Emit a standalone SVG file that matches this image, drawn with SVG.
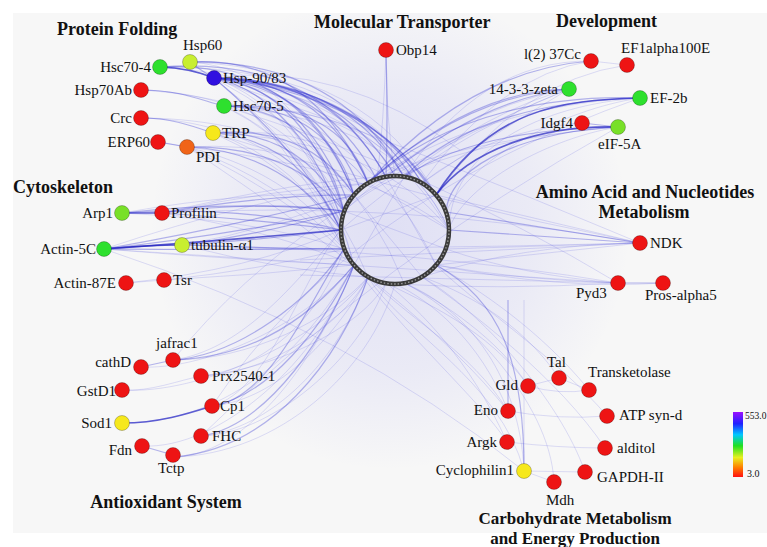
<svg xmlns="http://www.w3.org/2000/svg" width="767" height="547" viewBox="0 0 767 547">
<defs>
<radialGradient id="haze" cx="390" cy="230" r="240" gradientUnits="userSpaceOnUse">
<stop offset="0" stop-color="#5a5ae6" stop-opacity="0.15"/>
<stop offset="0.6" stop-color="#5a5ae6" stop-opacity="0.08"/>
<stop offset="1" stop-color="#5a5ae6" stop-opacity="0"/>
</radialGradient>
<linearGradient id="legend" x1="0" y1="0" x2="0" y2="1">
<stop offset="0" stop-color="#9a10ff"/>
<stop offset="0.18" stop-color="#2020ff"/>
<stop offset="0.35" stop-color="#00c8ff"/>
<stop offset="0.52" stop-color="#20e020"/>
<stop offset="0.7" stop-color="#e8f020"/>
<stop offset="0.85" stop-color="#ff8000"/>
<stop offset="1" stop-color="#ff1010"/>
</linearGradient>
</defs>
<style>
.e{fill:none;stroke:#4040d8;stroke-opacity:0.16;stroke-width:1}
.m{fill:none;stroke:#3030d0;stroke-opacity:0.35;stroke-width:1.2}
.s{fill:none;stroke:#2020c0;stroke-opacity:0.7;stroke-width:1.6}
.n{stroke:#000;stroke-opacity:0.3;stroke-width:0.8}
.r{fill:#ee1414}
.g{fill:#2ee02e}
.yg{fill:#c8ee30}
.lg{fill:#78e028}
.y{fill:#f6e81c}
.o{fill:#f06418}
.b{fill:#3010e0}
text{font-family:"Liberation Serif","Times New Roman",serif;fill:#111}
.l{font-size:15px}
.t{font-size:18px;font-weight:bold}
.t2{font-size:17px;font-weight:bold}
.end{text-anchor:end}
.mid{text-anchor:middle}
</style>
<rect x="0" y="0" width="767" height="547" fill="#ffffff"/>
<rect x="13" y="13" width="754" height="520" fill="#f7f7f7"/>
<rect x="13" y="13" width="754" height="520" fill="url(#haze)"/>
<g id="connectors">
<!-- top-left cluster -->
<path class="s" d="M160,67 Q190,68 214,78"/>
<path class="m" d="M190,62 Q200,70 214,78"/>
<path class="m" d="M141,90 C180,90 200,100 224,106"/>
<path class="m" d="M141,118 C170,118 190,125 213,133"/>
<path class="m" d="M158,142 L187,147"/>
<path class="m" d="M214,78 Q300,85 344,211"/>
<path class="m" d="M214,78 Q310,80 354,195"/>
<path class="m" d="M214,78 Q320,78 368,183"/>
<path class="m" d="M214,78 Q330,75 386,177"/>
<path class="m" d="M214,78 Q345,78 404,177"/>
<path class="m" d="M214,78 Q360,85 422,183"/>
<path class="m" d="M214,78 Q375,95 436,195"/>
<path class="m" d="M214,78 Q315,88 360,188"/>
<path class="m" d="M214,78 Q325,82 377,180"/>
<path class="m" d="M214,78 Q338,80 395,176"/>
<path class="m" d="M214,78 Q352,82 413,179"/>
<path class="m" d="M214,78 Q368,90 430,189"/>
<path class="m" d="M214,78 Q295,95 342,220"/>
<path class="m" d="M214,78 Q305,90 348,203"/>
<path class="e" d="M214,78 Q390,105 446,212"/>
<path class="e" d="M214,78 Q400,120 449,230"/>
<path class="e" d="M214,78 Q380,140 436,265"/>
<path class="e" d="M214,78 Q350,150 404,283"/>
<path class="e" d="M214,78 Q320,160 368,277"/>
<path class="m" d="M214,78 Q300,150 341,230"/>
<path class="e" d="M214,78 Q290,140 344,249"/>
<path class="e" d="M214,78 Q340,60 460,150"/>
<path class="e" d="M214,78 Q305,95 354,265"/>
<path class="m" d="M160,67 Q300,60 354,195"/>
<path class="m" d="M160,67 Q320,55 386,177"/>
<path class="e" d="M160,67 Q350,65 422,183"/>
<path class="e" d="M160,67 Q290,75 341,230"/>
<path class="e" d="M160,67 Q360,80 449,230"/>
<path class="m" d="M190,62 Q310,55 368,183"/>
<path class="m" d="M190,62 Q340,60 404,177"/>
<path class="e" d="M190,62 Q300,70 344,211"/>
<path class="e" d="M190,62 Q370,70 436,195"/>
<path class="e" d="M141,90 C200,92 300,110 344,211"/>
<path class="e" d="M141,90 C220,95 320,120 368,183"/>
<path class="m" d="M224,106 Q320,110 344,211"/>
<path class="m" d="M224,106 Q330,105 354,195"/>
<path class="m" d="M224,106 Q340,100 368,183"/>
<path class="e" d="M224,106 Q360,105 395,176"/>
<path class="e" d="M224,106 Q380,110 422,183"/>
<path class="e" d="M224,106 Q300,140 341,230"/>
<path class="e" d="M224,106 Q330,160 354,265"/>
<path class="e" d="M224,106 Q400,120 449,230"/>
<path class="e" d="M141,118 C220,120 300,150 341,230"/>
<path class="e" d="M141,118 C220,118 320,140 354,195"/>
<path class="m" d="M213,133 Q300,140 341,230"/>
<path class="m" d="M213,133 Q300,130 344,211"/>
<path class="m" d="M213,133 Q310,125 354,195"/>
<path class="e" d="M213,133 Q330,125 368,183"/>
<path class="e" d="M213,133 Q300,160 344,249"/>
<path class="e" d="M213,133 Q320,180 354,265"/>
<path class="e" d="M213,133 Q380,140 449,230"/>
<path class="m" d="M187,147 Q280,150 341,230"/>
<path class="m" d="M187,147 Q290,145 344,211"/>
<path class="e" d="M187,147 Q300,140 354,195"/>
<path class="e" d="M187,147 Q280,180 344,249"/>
<path class="e" d="M187,147 Q300,200 368,277"/>
<path class="e" d="M187,147 Q380,170 449,230"/>
<path class="e" d="M158,142 C220,150 300,180 344,249"/>
<!-- molecular transporter -->
<path class="m" d="M386,50 Q388,120 386,177"/>
<path class="e" d="M386,50 Q386,120 395,176"/>
<path class="e" d="M386,50 Q384,120 377,180"/>
<!-- development -->
<path class="e" d="M591,61 L627,65"/>
<path class="m" d="M582,123 L618,127"/>
<path class="e" d="M591,61 Q480,60 404,177"/>
<path class="m" d="M591,61 Q470,70 368,183"/>
<path class="e" d="M591,61 Q500,75 422,183"/>
<path class="e" d="M627,65 Q520,80 436,195"/>
<path class="m" d="M569,89 Q470,90 368,183"/>
<path class="m" d="M569,89 Q460,95 354,195"/>
<path class="m" d="M569,89 Q480,100 386,177"/>
<path class="e" d="M569,89 Q450,110 344,211"/>
<path class="e" d="M569,89 Q490,110 404,177"/>
<path class="e" d="M569,89 Q440,140 341,230"/>
<path class="e" d="M569,89 Q500,130 422,183"/>
<path class="s" d="M640,98 C560,100 490,110 436,195"/>
<path class="m" d="M640,98 C550,100 460,120 404,177"/>
<path class="m" d="M640,98 C560,95 450,110 368,183"/>
<path class="e" d="M640,98 C540,105 450,150 449,230"/>
<path class="e" d="M640,98 C560,100 430,130 354,195"/>
<path class="e" d="M640,98 C560,110 470,160 446,212"/>
<path class="e" d="M582,123 Q490,130 422,183"/>
<path class="s" d="M618,127 C540,125 470,150 436,195"/>
<path class="m" d="M618,127 C540,128 460,140 404,177"/>
<path class="m" d="M618,127 C540,130 450,160 446,212"/>
<path class="e" d="M618,127 C530,135 430,150 368,183"/>
<path class="e" d="M618,127 C540,140 460,190 449,230"/>
<path class="e" d="M618,127 C520,135 400,160 344,211"/>
<!-- cytoskeleton -->
<path class="s" d="M122,213 L162,213"/>
<path class="s" d="M104,249 Q150,245 182,245"/>
<path class="e" d="M126,283 L164,280"/>
<path class="m" d="M122,213 Q240,205 341,230"/>
<path class="m" d="M122,213 Q240,200 344,211"/>
<path class="e" d="M122,213 Q250,190 354,195"/>
<path class="e" d="M122,213 Q260,220 344,249"/>
<path class="m" d="M162,213 Q260,200 344,211"/>
<path class="m" d="M162,213 Q260,195 354,195"/>
<path class="e" d="M162,213 Q270,190 368,183"/>
<path class="m" d="M162,213 Q260,220 341,230"/>
<path class="e" d="M162,213 Q270,230 354,265"/>
<path class="e" d="M162,213 Q300,180 395,176"/>
<path class="s" d="M104,249 Q230,240 341,230"/>
<path class="m" d="M104,249 Q230,235 344,211"/>
<path class="m" d="M104,249 Q240,225 354,195"/>
<path class="m" d="M104,249 Q230,250 344,249"/>
<path class="e" d="M104,249 Q240,260 354,265"/>
<path class="e" d="M104,249 Q250,200 368,183"/>
<path class="e" d="M104,249 Q350,265 618,283"/>
<path class="e" d="M104,249 Q380,250 640,243"/>
<path class="m" d="M182,245 Q260,240 341,230"/>
<path class="m" d="M182,245 Q260,235 344,211"/>
<path class="m" d="M182,245 Q260,248 344,249"/>
<path class="e" d="M182,245 Q270,230 354,195"/>
<path class="e" d="M182,245 Q280,270 368,277"/>
<path class="e" d="M164,280 Q260,270 344,249"/>
<path class="e" d="M164,280 Q260,275 354,265"/>
<path class="e" d="M126,283 Q250,270 341,230"/>
<!-- amino acid -->
<path class="m" d="M640,243 L449,230"/>
<path class="e" d="M640,243 L446,249"/>
<path class="e" d="M640,243 L436,195"/>
<path class="e" d="M640,243 L436,265"/>
<path class="m" d="M640,243 L446,212"/>
<path class="e" d="M640,243 Q520,245 422,277"/>
<path class="e" d="M640,243 L300,260"/>
<path class="m" d="M618,283 L663,283"/>
<path class="e" d="M618,283 Q520,280 436,265"/>
<path class="e" d="M618,283 Q500,290 395,284"/>
<path class="e" d="M618,283 Q520,275 446,249"/>
<path class="e" d="M618,283 L300,275"/>
<path class="e" d="M663,283 Q560,290 436,265"/>
<!-- antioxidant -->
<path class="m" d="M141,367 L173,360"/>
<path class="e" d="M122,390 C150,392 180,380 201,376"/>
<path class="s" d="M122,423 C160,423 190,413 212,406"/>
<path class="m" d="M142,446 L173,455"/>
<path class="m" d="M173,360 C240,358 300,330 354,265"/>
<path class="m" d="M173,360 C240,355 310,300 344,249"/>
<path class="e" d="M173,360 C250,360 330,320 368,277"/>
<path class="e" d="M173,360 C240,350 290,290 341,230"/>
<path class="e" d="M141,367 C200,370 300,330 354,265"/>
<path class="e" d="M201,376 C260,370 320,320 344,249"/>
<path class="e" d="M201,376 C260,375 340,330 368,277"/>
<path class="e" d="M201,376 C270,370 360,330 386,283"/>
<path class="e" d="M122,390 C200,395 320,340 368,277"/>
<path class="m" d="M212,406 C270,395 320,330 354,265"/>
<path class="m" d="M212,406 C270,400 310,300 344,249"/>
<path class="e" d="M212,406 C270,390 300,280 341,230"/>
<path class="e" d="M212,406 C280,400 340,330 368,277"/>
<path class="e" d="M122,423 C220,423 300,360 354,265"/>
<path class="e" d="M201,436 C270,430 340,360 368,277"/>
<path class="m" d="M201,436 C270,425 330,330 354,265"/>
<path class="e" d="M201,436 C270,435 360,360 386,283"/>
<path class="m" d="M173,457 C270,450 340,360 368,277"/>
<path class="e" d="M173,457 C260,455 330,330 354,265"/>
<path class="e" d="M173,457 C280,455 370,370 395,284"/>
<path class="e" d="M142,446 C220,450 320,360 354,265"/>
<!-- carbohydrate -->
<path class="e" d="M528,386 L559,378"/>
<path class="e" d="M559,378 L589,390"/>
<path class="e" d="M528,386 Q560,395 589,390"/>
<path class="e" d="M508,411 Q560,420 607,416"/>
<path class="e" d="M507,442 Q560,448 605,448"/>
<path class="e" d="M524,471 L585,472"/>
<path class="e" d="M524,471 L554,482"/>
<path class="e" d="M528,386 C500,340 440,300 404,283"/>
<path class="e" d="M528,386 C490,330 420,300 386,283"/>
<path class="e" d="M559,378 C520,320 460,290 422,277"/>
<path class="e" d="M589,390 C540,330 480,290 436,265"/>
<path class="e" d="M508,411 C480,340 430,300 395,284"/>
<path class="e" d="M508,411 C470,350 410,320 368,277"/>
<path class="m" d="M508,411 L508,300"/>
<path class="e" d="M507,442 C470,360 420,310 386,283"/>
<path class="e" d="M507,442 C480,400 400,330 354,265"/>
<path class="m" d="M524,471 C524,360 500,300 436,265"/>
<path class="e" d="M524,471 C520,380 470,310 404,283"/>
<path class="e" d="M524,471 C500,380 400,330 368,277"/>
<path class="e" d="M524,471 L524,300"/>
<path class="e" d="M607,416 C560,360 470,300 436,265"/>
<path class="e" d="M605,448 C560,380 470,310 422,277"/>
<path class="e" d="M585,472 C560,400 480,310 422,277"/>
<path class="e" d="M554,482 C550,400 460,310 404,283"/>
<!-- long cross links -->
<path class="e" d="M214,78 Q420,150 640,243"/>
<path class="e" d="M224,106 Q430,170 618,283"/>
<path class="e" d="M569,89 Q300,200 173,360"/>
<path class="e" d="M640,98 Q350,200 212,406"/>
<path class="e" d="M162,213 Q400,200 640,243"/>
<path class="e" d="M182,245 Q420,250 618,283"/>
<path class="e" d="M213,133 Q420,200 640,243"/>
<path class="e" d="M618,127 Q380,260 201,436"/>
<path class="e" d="M104,249 Q350,330 524,471"/>
<path class="e" d="M187,147 Q420,300 508,411"/>
<!-- chords inside ring -->
<path class="e" d="M344,211 L446,249"/>
<path class="e" d="M354,195 L422,277"/>
<path class="e" d="M368,183 L449,230"/>
<path class="e" d="M341,230 L436,195"/>
<path class="e" d="M354,265 L404,177"/>
<path class="e" d="M386,177 L436,265"/>
</g>
<g id="ring">
<circle cx="395" cy="230" r="54" fill="none" stroke="#3a3a3a" stroke-width="4.5"/>
<circle cx="395" cy="230" r="54" fill="none" stroke="#9a9a9a" stroke-width="1.4" stroke-dasharray="1.5 2"/>
</g>
<g id="titles">
<text class="t" x="57" y="35">Protein Folding</text>
<text class="t" x="314" y="28">Molecular Transporter</text>
<text class="t" x="556" y="27">Development</text>
<text class="t" x="13" y="193">Cytoskeleton</text>
<text class="t mid" x="645" y="198">Amino Acid and Nucleotides</text>
<text class="t mid" x="644" y="218">Metabolism</text>
<text class="t mid" x="166" y="508">Antioxidant System</text>
<text class="t2 mid" x="575" y="524">Carbohydrate Metabolism</text>
<text class="t2 mid" x="575" y="544">and Energy Production</text>
</g>
<g id="n-Hsc70-4"><circle class="n g" cx="160" cy="67" r="7.5"/><text class="l end" x="151" y="72">Hsc70-4</text></g>
<g id="n-Hsp60"><circle class="n yg" cx="190" cy="62" r="7.5"/><text class="l" x="183" y="50">Hsp60</text></g>
<g id="n-Hsp90"><circle class="n b" cx="214" cy="78" r="7.5"/><text class="l" x="223" y="83">Hsp-90/83</text></g>
<g id="n-Hsp70Ab"><circle class="n r" cx="141" cy="90" r="7.5"/><text class="l end" x="132" y="95">Hsp70Ab</text></g>
<g id="n-Hsc70-5"><circle class="n g" cx="224" cy="106" r="7.5"/><text class="l" x="233" y="111">Hsc70-5</text></g>
<g id="n-Crc"><circle class="n r" cx="141" cy="118" r="7.5"/><text class="l end" x="132" y="123">Crc</text></g>
<g id="n-TRP"><circle class="n y" cx="213" cy="133" r="7.5"/><text class="l" x="222" y="138">TRP</text></g>
<g id="n-ERP60"><circle class="n r" cx="158" cy="142" r="7.5"/><text class="l end" x="150" y="147">ERP60</text></g>
<g id="n-PDI"><circle class="n o" cx="187" cy="147" r="7.5"/><text class="l" x="196" y="162">PDI</text></g>
<g id="n-Obp14"><circle class="n r" cx="386" cy="50" r="7.5"/><text class="l" x="396" y="55">Obp14</text></g>
<g id="n-l2-37Cc"><circle class="n r" cx="591" cy="61" r="7.5"/><text class="l end" x="581" y="59">l(2) 37Cc</text></g>
<g id="n-EF1alpha100E"><circle class="n r" cx="627" cy="65" r="7.5"/><text class="l" x="621" y="53">EF1alpha100E</text></g>
<g id="n-14-3-3-zeta"><circle class="n g" cx="569" cy="89" r="7.5"/><text class="l end" x="558" y="94">14-3-3-zeta</text></g>
<g id="n-EF-2b"><circle class="n g" cx="640" cy="98" r="7.5"/><text class="l" x="650" y="103">EF-2b</text></g>
<g id="n-Idgf4"><circle class="n r" cx="582" cy="123" r="7.5"/><text class="l end" x="573" y="128">Idgf4</text></g>
<g id="n-eIF-5A"><circle class="n lg" cx="618" cy="127" r="7.5"/><text class="l" x="598" y="149">eIF-5A</text></g>
<g id="n-Arp1"><circle class="n lg" cx="122" cy="213" r="7.5"/><text class="l end" x="113" y="218">Arp1</text></g>
<g id="n-Profilin"><circle class="n r" cx="162" cy="213" r="7.5"/><text class="l" x="171" y="218">Profilin</text></g>
<g id="n-Actin-5C"><circle class="n g" cx="104" cy="249" r="7.5"/><text class="l end" x="96" y="254">Actin-5C</text></g>
<g id="n-tubulin"><circle class="n yg" cx="182" cy="245" r="7.5"/><text class="l" x="191" y="250">tubulin-α1</text></g>
<g id="n-Actin-87E"><circle class="n r" cx="126" cy="283" r="7.5"/><text class="l end" x="116" y="288">Actin-87E</text></g>
<g id="n-Tsr"><circle class="n r" cx="164" cy="280" r="7.5"/><text class="l" x="173" y="285">Tsr</text></g>
<g id="n-NDK"><circle class="n r" cx="640" cy="243" r="7.5"/><text class="l" x="650" y="248">NDK</text></g>
<g id="n-Pyd3"><circle class="n r" cx="618" cy="283" r="7.5"/><text class="l" x="576" y="298">Pyd3</text></g>
<g id="n-Pros-alpha5"><circle class="n r" cx="663" cy="283" r="7.5"/><text class="l" x="645" y="300">Pros-alpha5</text></g>
<g id="n-cathD"><circle class="n r" cx="141" cy="367" r="7.5"/><text class="l end" x="131" y="367">cathD</text></g>
<g id="n-jafrac1"><circle class="n r" cx="173" cy="360" r="7.5"/><text class="l" x="156" y="348">jafrac1</text></g>
<g id="n-Prx2540-1"><circle class="n r" cx="201" cy="376" r="7.5"/><text class="l" x="212" y="381">Prx2540-1</text></g>
<g id="n-GstD1"><circle class="n r" cx="122" cy="390" r="7.5"/><text class="l end" x="116" y="396">GstD1</text></g>
<g id="n-Sod1"><circle class="n y" cx="122" cy="423" r="7.5"/><text class="l end" x="112" y="428">Sod1</text></g>
<g id="n-Cp1"><circle class="n r" cx="212" cy="406" r="7.5"/><text class="l" x="220" y="411">Cp1</text></g>
<g id="n-FHC"><circle class="n r" cx="201" cy="436" r="7.5"/><text class="l" x="212" y="441">FHC</text></g>
<g id="n-Fdn"><circle class="n r" cx="142" cy="446" r="7.5"/><text class="l end" x="132" y="455">Fdn</text></g>
<g id="n-Tctp"><circle class="n r" cx="173" cy="455" r="7.5"/><text class="l" x="158" y="473">Tctp</text></g>
<g id="n-Tal"><circle class="n r" cx="559" cy="378" r="7.5"/><text class="l" x="547" y="367">Tal</text></g>
<g id="n-Gld"><circle class="n r" cx="528" cy="386" r="7.5"/><text class="l end" x="518" y="390">Gld</text></g>
<g id="n-Transketolase"><circle class="n r" cx="589" cy="390" r="7.5"/><text class="l" x="588" y="377">Transketolase</text></g>
<g id="n-Eno"><circle class="n r" cx="508" cy="411" r="7.5"/><text class="l end" x="498" y="415">Eno</text></g>
<g id="n-ATP-syn-d"><circle class="n r" cx="607" cy="416" r="7.5"/><text class="l" x="619" y="420">ATP syn-d</text></g>
<g id="n-Argk"><circle class="n r" cx="507" cy="442" r="7.5"/><text class="l end" x="497" y="447">Argk</text></g>
<g id="n-alditol"><circle class="n r" cx="605" cy="448" r="7.5"/><text class="l" x="617" y="453">alditol</text></g>
<g id="n-Cyclophilin1"><circle class="n y" cx="524" cy="471" r="7.5"/><text class="l end" x="514" y="475">Cyclophilin1</text></g>
<g id="n-GAPDH-II"><circle class="n r" cx="585" cy="472" r="7.5"/><text class="l" x="597" y="482">GAPDH-II</text></g>
<g id="n-Mdh"><circle class="n r" cx="554" cy="482" r="7.5"/><text class="l" x="546" y="505">Mdh</text></g>
<g id="legend-bar">
<rect x="733" y="412" width="10" height="65" fill="url(#legend)"/>
<text x="745" y="419" font-size="9.5">553.0</text>
<text x="747" y="477" font-size="10">3.0</text>
</g>
</svg>
